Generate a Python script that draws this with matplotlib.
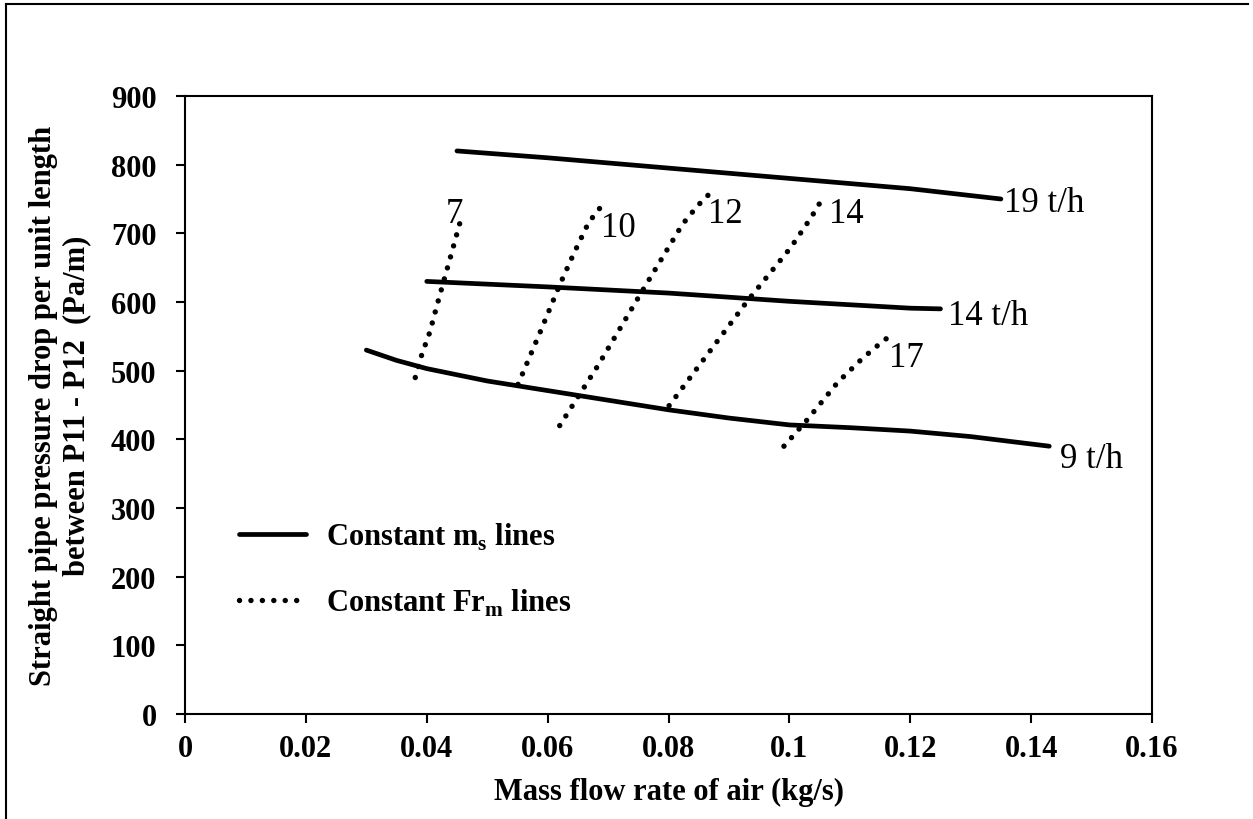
import matplotlib
matplotlib.use('Agg')
import matplotlib.pyplot as plt
from matplotlib.lines import Line2D

plt.rcParams['font.family'] = ['Liberation Serif', 'DejaVu Serif']
plt.rcParams['mathtext.fontset'] = 'custom'
plt.rcParams['mathtext.rm'] = 'Liberation Serif'
plt.rcParams['mathtext.bf'] = 'Liberation Serif:bold'

# constant solids mass flow lines (t/h)
x_ms19 = [0.045, 0.06, 0.08, 0.10, 0.12, 0.135]
y_ms19 = [820, 810, 795, 780, 765, 750]
x_ms14 = [0.040, 0.06, 0.08, 0.10, 0.12, 0.125]
y_ms14 = [630, 622, 613, 601, 591, 590]
x_ms9 = [0.030, 0.035, 0.040, 0.050, 0.065, 0.080, 0.090, 0.100, 0.110, 0.120, 0.130, 0.143]
y_ms9 = [530, 515, 503, 485, 464, 443, 431, 421, 417, 412, 404, 390]

# constant Froude number lines
x_fr7 = [0.0381, 0.0392, 0.0405, 0.0420, 0.0441, 0.0456]
y_fr7 = [490, 524, 556, 605, 671, 719]
x_fr10 = [0.0551, 0.0589, 0.0619, 0.0643, 0.0668, 0.0692]
y_fr10 = [480, 559, 623, 670, 716, 743]
x_fr12 = [0.0620, 0.0683, 0.0762, 0.0823, 0.0848, 0.0875]
y_fr12 = [420, 507, 624, 713, 740, 764]
x_fr14 = [0.0801, 0.0931, 0.1002, 0.1036, 0.1057]
y_fr14 = [449, 602, 679, 723, 754]
x_fr17 = [0.0991, 0.1030, 0.1080, 0.1121, 0.1152, 0.1167]
y_fr17 = [390, 429, 483, 518, 541, 551]

# line labels: text, x, baseline y
ms_labels = [("19 t/h", 0.1355, 732), ("14 t/h", 0.1263, 568), ("9 t/h", 0.1447, 359)]
fr_labels = [("7", 0.0431, 716), ("10", 0.0688, 696), ("12", 0.0865, 716),
             ("14", 0.1065, 716), ("17", 0.1165, 507)]

xticks = [0, 0.02, 0.04, 0.06, 0.08, 0.1, 0.12, 0.14, 0.16]
xticklabels = ["0", "0.02", "0.04", "0.06", "0.08", "0.1", "0.12", "0.14", "0.16"]
yticks = [0, 100, 200, 300, 400, 500, 600, 700, 800, 900]

fig = plt.figure(figsize=(12.53, 8.2), dpi=100)
ax = fig.add_axes([185 / 1253, 1 - 715 / 820, (1152 - 185) / 1253, (715 - 97) / 820])

solid_kw = dict(color='black', lw=3.4, solid_capstyle='round')
dot_kw = dict(color='black', lw=3.9, linestyle=(0, (0.01, 2.1)), dash_capstyle='round')

for xs, ys in [(x_ms19, y_ms19), (x_ms14, y_ms14), (x_ms9, y_ms9)]:
    ax.plot(xs, ys, **solid_kw)
for xs, ys in [(x_fr7, y_fr7), (x_fr10, y_fr10), (x_fr12, y_fr12),
               (x_fr14, y_fr14), (x_fr17, y_fr17)]:
    ax.plot(xs, ys, **dot_kw)

for txt, x, y in ms_labels + fr_labels:
    ax.text(x, y, txt, fontsize=25, ha='left', va='baseline')

ax.set_xlim(0, 0.16)
ax.set_ylim(0, 900)
ax.set_xticks(xticks)
ax.set_xticklabels(xticklabels)
ax.set_yticks(yticks)
ax.tick_params(direction='out', length=6.5, width=1.5, labelsize=22, pad=8)
ax.tick_params(axis='y', pad=14)
for lab in ax.get_xticklabels() + ax.get_yticklabels():
    lab.set_fontweight('bold')
for sp in ax.spines.values():
    sp.set_linewidth(1.5)

ax.set_xlabel("Mass flow rate of air (kg/s)", fontsize=22, fontweight='bold', labelpad=10)
ax.set_ylabel("Straight pipe pressure drop per unit length\nbetween P11 - P12  (Pa/m)",
              fontsize=22, fontweight='bold', linespacing=1.2, labelpad=14)

handles = [Line2D([], [], **solid_kw), Line2D([], [], **dot_kw)]
ax.legend(handles, [r"Constant m$_\mathbf{s}$ lines", r"Constant Fr$_\mathbf{m}$ lines"],
          loc='upper left', bbox_to_anchor=(0.027, 0.357), frameon=False,
          prop={'size': 22, 'weight': 'bold'}, handlelength=2.2, handletextpad=0.65,
          labelspacing=1.15)

# outer frame (top and left edges)
fig.add_artist(Line2D([6 / 1253, 1248 / 1253], [1 - 5 / 820, 1 - 5 / 820],
                      transform=fig.transFigure, color='black', lw=1.5))
fig.add_artist(Line2D([6 / 1253, 6 / 1253], [0, 1 - 5 / 820],
                      transform=fig.transFigure, color='black', lw=1.5))

fig.savefig("out.png", dpi=100)
